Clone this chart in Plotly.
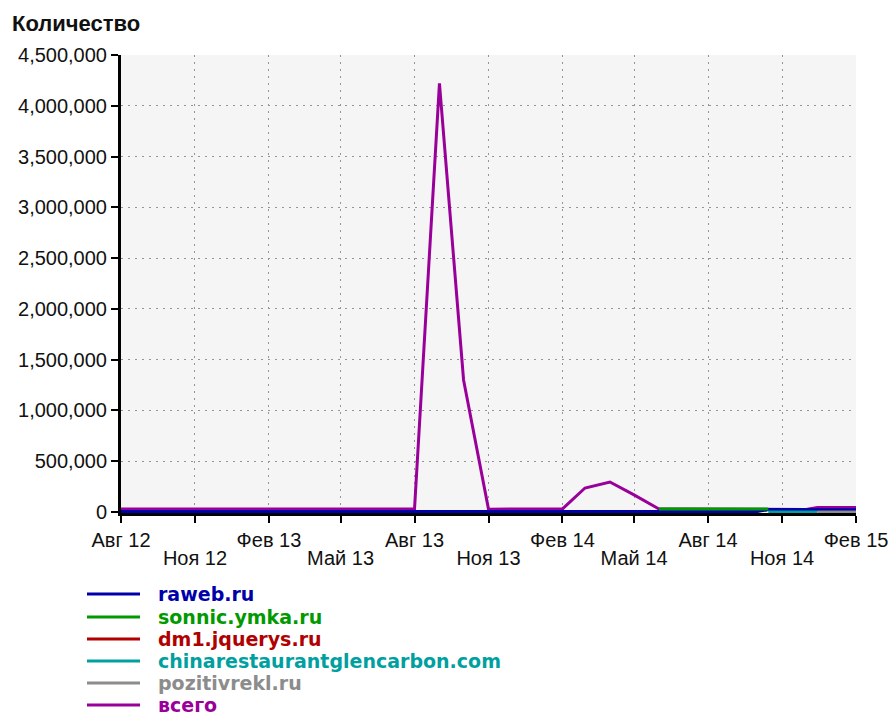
import plotly.graph_objects as go
import pandas as pd

# ---------------- data ----------------
series_names = ["raweb.ru", "sonnic.ymka.ru", "dm1.jquerys.ru",
                "chinarestaurantglencarbon.com", "pozitivrekl.ru", "всего"]
series_colors = ["#0000aa", "#009a00", "#b00000", "#00a0a0", "#8c8c8c", "#990099"]

# shared dates for raweb.ru and всего (monthly, plus mid-month steps at the end)
main_dates = [d.strftime("%Y-%m-%d") for d in pd.date_range("2012-08-01", "2014-10-01", freq="MS")] + \
             ["2014-10-15", "2014-11-01", "2014-12-01", "2014-12-15", "2015-01-01", "2015-02-01"]

vsego_values = [30000, 30000, 30000, 30000, 30000,                      # Aug-Dec 2012
                30000, 30000, 30000, 30000, 30000, 30000, 30000, 30000,  # Jan-Aug 2013
                4220000, 1300000, 28000, 28000,                          # Sep-Dec 2013
                28000, 30000, 236000, 295000, 168000, 30000,             # Jan-Jun 2014
                30000, 30000, 30000, 30000,                              # Jul-Oct 2014
                24000, 24000, 24000, 44000, 44000, 44000]

raweb_values = [4000] * 5 + [4000] * 12 + [4000] * 10 + \
               [24000, 24000, 22000, 22000, 22000, 22000]

sonnic_dates = ["2014-06-01", "2014-07-01", "2014-08-01", "2014-09-01", "2014-10-01", "2014-10-15"]
sonnic_values = [30000, 30000, 30000, 30000, 30000, 30000]

dm1_dates = ["2013-11-01", "2013-12-01", "2014-01-01", "2014-02-01"]
dm1_values = [0, 0, 0, 0]

china_dates = ["2014-10-15", "2014-11-01", "2014-12-01", "2014-12-15"]
china_values = [0, 0, 0, 0]

poz_dates = ["2014-12-15", "2015-01-01", "2015-02-01"]
poz_values = [0, 0, 0]

tick_dates = ["2012-08-01", "2012-11-01", "2013-02-01", "2013-05-01", "2013-08-01", "2013-11-01",
              "2014-02-01", "2014-05-01", "2014-08-01", "2014-11-01", "2015-02-01"]
tick_labels = ["Авг 12", "Ноя 12", "Фев 13", "Май 13", "Авг 13", "Ноя 13",
               "Фев 14", "Май 14", "Авг 14", "Ноя 14", "Фев 15"]
y_ticks = [0, 500000, 1000000, 1500000, 2000000, 2500000, 3000000, 3500000, 4000000, 4500000]

# ---------------- figure ----------------
W, H = 890, 716
L, R, T, B = 121, 34, 55, 716 - 513
PW, PH = W - L - R, H - T - B

series_data = {
    "всего": (main_dates, vsego_values),
    "dm1.jquerys.ru": (dm1_dates, dm1_values),
    "raweb.ru": (main_dates, raweb_values),
    "sonnic.ymka.ru": (sonnic_dates, sonnic_values),
    "chinarestaurantglencarbon.com": (china_dates, china_values),
    "pozitivrekl.ru": (poz_dates, poz_values),
}
color_of = dict(zip(series_names, series_colors))

fig = go.Figure()
for name in ["всего", "dm1.jquerys.ru", "raweb.ru", "sonnic.ymka.ru",
             "chinarestaurantglencarbon.com", "pozitivrekl.ru"]:
    xs, ys = series_data[name]
    fig.add_trace(go.Scatter(x=xs, y=ys, mode="lines", name=name,
                             line=dict(color=color_of[name], width=3)))

# helper trace so the second label row axis exists
fig.add_trace(go.Scatter(x=[main_dates[0]], y=[vsego_values[0]], mode="lines",
                         xaxis="x2", yaxis="y", line=dict(width=0), hoverinfo="skip",
                         showlegend=False))

row2_vals = [d for i, d in enumerate(tick_dates) if i % 2 == 1]
row2_text = [t for i, t in enumerate(tick_labels) if i % 2 == 1]
main_text = [t if i % 2 == 0 else "" for i, t in enumerate(tick_labels)]

tickfont = dict(size=20, color="#111")
axis_common = dict(showline=True, linecolor="black", linewidth=3,
                   ticks="outside", ticklen=7, tickwidth=2, tickcolor="black",
                   showgrid=True, gridcolor="#959595", gridwidth=1, griddash="2px,5px",
                   zeroline=False, tickfont=tickfont, automargin=False)

fig.update_layout(
    width=W, height=H,
    margin=dict(l=L, r=R, t=T, b=B, pad=0, autoexpand=False),
    paper_bgcolor="white", plot_bgcolor="#f5f5f5",
    showlegend=False,
    font=dict(family="Liberation Sans, Arial, sans-serif", size=20, color="#111"),
    title=dict(text="<b>Количество</b>", x=12 / W, xref="container", xanchor="left",
               y=1 - 23 / H, yref="container", yanchor="middle",
               font=dict(size=22, color="#111"), automargin=False),
    xaxis=dict(type="date", range=["2012-08-01", "2015-02-01"],
               tickmode="array", tickvals=tick_dates, ticktext=main_text, **axis_common),
    xaxis2=dict(type="date", range=["2012-08-01", "2015-02-01"], overlaying="x",
                anchor="y", side="bottom", tickmode="array", tickvals=row2_vals,
                ticktext=row2_text, ticks="outside", ticklen=27, tickwidth=1,
                tickcolor="rgba(0,0,0,0)", showline=False, showgrid=False,
                zeroline=False, tickfont=tickfont, automargin=False),
    yaxis=dict(range=[-10000, 4500000], tickmode="array", tickvals=y_ticks,
               tickformat=",d", **axis_common),
)

# custom legend below the plot
row_y = [594, 617, 639, 661, 683, 705]
def px_x(x):
    return (x - L) / PW
def px_y(y):
    return (H - B - y) / PH

for i, (name, col) in enumerate(zip(series_names, series_colors)):
    yy = px_y(row_y[i])
    fig.add_shape(type="line", xref="paper", yref="paper",
                  x0=px_x(87), x1=px_x(140), y0=yy, y1=yy,
                  line=dict(color=col, width=3))
    fig.add_annotation(xref="paper", yref="paper", x=px_x(157), y=yy,
                       xanchor="left", yanchor="middle", showarrow=False,
                       text="<b>" + name + "</b>", borderpad=0,
                       font=dict(size=19, color=col, family="DejaVu Sans, Verdana, sans-serif"))

fig.write_html("out.html", config={"displayModeBar": False},
               post_script="document.body.style.margin='0';document.body.style.padding='0';"
                           "document.documentElement.style.overflow='hidden';")
